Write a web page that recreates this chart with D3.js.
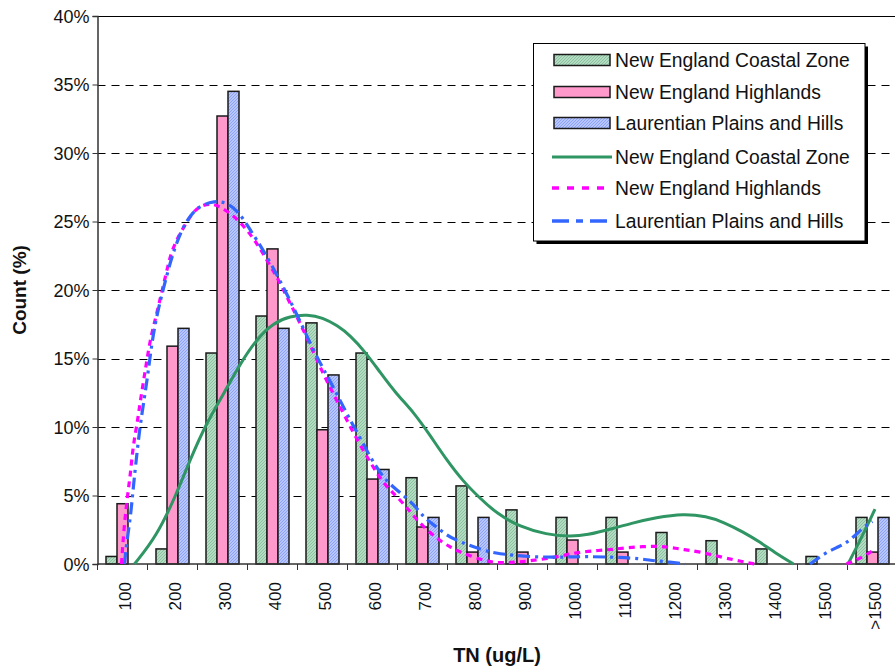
<!DOCTYPE html>
<html><head><meta charset="utf-8">
<script src="https://cdn.jsdelivr.net/npm/d3@7/dist/d3.min.js"></script>
<style>body{margin:0;background:#fff}svg{display:block}text{font-family:Arial,"Liberation Sans",sans-serif}</style>
</head><body>
<svg id="c" width="895" height="670"></svg>
<script>
const categories = ["100","200","300","400","500","600","700","800","900","1000","1100","1200","1300","1400","1500",">1500"];
const seriesNames = ["New England Coastal Zone","New England Highlands","Laurentian Plains and Hills"];
const coastal    = [0.55,1.1,15.4,18.1,17.6,15.4,6.3,5.7,3.95,3.4,3.4,2.3,1.7,1.1,0.55,3.4];
const highlands  = [4.4,15.9,32.7,23.0,9.8,6.2,2.7,0.87,0.87,1.75,0.87,0,0,0,0,0.87];
const laurentian = [0,17.2,34.5,17.2,13.8,6.9,3.4,3.4,0,0,0,0,0,0,0,3.4];
const yTicks = [0,5,10,15,20,25,30,35,40];
// fitted curves: [TN, percent] per segment
const coastalFit = [
  [[124,0],[168,2.0],[208,5.1],[235,7.6],[268,10.3],[302,12.4],[335,14.6],[368,16.4],[402,17.6],[435,18.1],[470,18.2],[500,18.0],[530,17.4],[555,16.7],[585,15.5],[615,14.0],[648,12.4],[682,11.1],[715,9.4],[748,7.6],[782,6.0],[815,4.8],[848,3.7],[895,2.7],[948,2.15],[995,2.0],[1028,2.1],[1082,2.6],[1115,2.95],[1168,3.4],[1222,3.68],[1268,3.48],[1302,3.06],[1342,2.33],[1375,1.6],[1408,0.75],[1442,0]],
  [[1551,0],[1575,1.7],[1605,4.0]]
];
const highlandsFit = [
  [[98,0],[103,2.7],[111,5.3],[116,6.6],[121,8.6],[130,10.4],[134,11.5],[144,13.8],[151,15.4],[158,16.8],[166,17.9],[173,19.0],[188,21.3],[196,22.6],[211,23.9],[228,24.9],[241,25.7],[258,26.2],[278,26.3],[295,26.1],[328,25.3],[362,23.8],[382,22.6],[408,21.0],[422,20.0],[462,17.1],[502,13.8],[528,12.0],[565,9.3],[615,6.2],[635,5.4],[668,4.2],[688,3.2],[728,1.85],[755,1.24],[775,0.87],[802,0.5],[828,0.22],[850,0.08],[875,0.1],[910,0.2],[962,0.46],[1008,0.85],[1055,1.0],[1081,1.07],[1108,1.19],[1140,1.27],[1170,1.3],[1200,1.2],[1222,1.05],[1252,0.92],[1302,0.46],[1338,0.19],[1365,0]],
  [[1548,0],[1582,0.5],[1605,1.1]]
];
const laurentianFit = [
  [[104,0],[108,1.5],[116,3.4],[121,5.4],[126,7.1],[134,9.8],[144,12.2],[151,13.9],[161,16.8],[174,19.0],[188,21.0],[201,22.7],[218,24.4],[238,25.6],[258,26.2],[284,26.5],[304,26.4],[320,26.1],[342,25.2],[355,24.4],[382,22.9],[415,20.7],[448,18.3],[488,15.1],[515,13.4],[548,11.0],[575,9.2],[615,6.5],[648,5.4],[682,4.4],[702,3.4],[725,2.8],[748,2.1],[775,1.6],[822,1.0],[845,0.8],[882,0.63],[928,0.5],[982,0.5],[1028,0.55],[1082,0.5],[1135,0.4],[1155,0.26],[1182,0.19],[1225,0]],
  [[1475,0],[1508,0.87],[1532,1.24],[1555,1.7],[1582,2.7],[1600,3.1]]
];

const svg = d3.select("#c");
const L = 97.5, R = 897.5, T = 16, B = 564;
const y = d3.scaleLinear().domain([0,40]).range([B,T]);
const x0 = d3.scaleBand().domain(categories).range([L,R]).paddingInner(0.34).paddingOuter(0.17);
const x1 = d3.scaleBand().domain(seriesNames).range([0,x0.bandwidth()]);
const xl = d3.scaleLinear().domain([50,1650]).range([L,R]);

const defs = svg.append("defs");
function hatch(id, base, line){
  const p = defs.append("pattern").attr("id",id).attr("patternUnits","userSpaceOnUse").attr("width",3).attr("height",3);
  p.append("rect").attr("width",3).attr("height",3).attr("fill",base);
  p.append("path").attr("d","M0,3L3,0M-1,1L1,-1M2,4L4,2").attr("stroke",line).attr("stroke-width",0.8);
}
hatch("pg","#b4dcc2","#7fbb97");
hatch("pb","#b8c6ff","#8099f5");
const fills = ["url(#pg)","#ff99cc","url(#pb)"];
const lineColors = ["#2e9563","#ff00ff","#3366ff"];
const dashes = [null,"6,5","12,5,3,5"];

// gridlines
svg.append("g").selectAll("line").data(yTicks.filter(d=>d>0&&d<40)).join("line")
  .attr("x1",L).attr("x2",895).attr("y1",d=>Math.round(y(d))+0.5).attr("y2",d=>Math.round(y(d))+0.5)
  .attr("stroke","#000").attr("stroke-width",1).attr("stroke-dasharray","8,6");
svg.append("line").attr("x1",L).attr("x2",895).attr("y1",T+0.5).attr("y2",T+0.5).attr("stroke","#000").attr("stroke-width",1.2);

// bars
const data = [coastal, highlands, laurentian];
const g = svg.append("g");
seriesNames.forEach((s,si)=>{
  g.append("g").selectAll("rect").data(categories.map((c,i)=>({c,v:data[si][i]})).filter(d=>d.v>0)).join("rect")
    .attr("x",d=>x0(d.c)+x1(s)).attr("width",x1.bandwidth())
    .attr("y",d=>y(d.v)).attr("height",d=>B-y(d.v))
    .attr("fill",fills[si]).attr("stroke","#1a1a1a").attr("stroke-width",1.5);
});

// axes
const yAxis = d3.axisLeft(y).tickValues(yTicks).tickSize(5).tickFormat(d=>d+"%");
const ya = svg.append("g").attr("transform",`translate(${L},0)`).call(yAxis);
ya.select(".domain").attr("stroke","#333").attr("stroke-width",1.5);
ya.selectAll(".tick line").attr("stroke","#333");
ya.selectAll("text").attr("font-size",18).attr("fill","#111").attr("x",-8).attr("dy","0.35em");

const xa = svg.append("g");
xa.append("line").attr("x1",L).attr("x2",895).attr("y1",B).attr("y2",B).attr("stroke","#333").attr("stroke-width",1.5);
xa.selectAll("line.t").data(d3.range(categories.length+1)).join("line").attr("class","t")
  .attr("x1",i=>L+i*x0.step()).attr("x2",i=>L+i*x0.step()).attr("y1",B).attr("y2",B+6).attr("stroke","#333");
xa.selectAll("text").data(categories).join("text")
  .attr("transform",d=>`translate(${x0(d)+x0.bandwidth()/2+2},582) rotate(-90)`)
  .attr("text-anchor","end").attr("dy","0.36em").attr("font-size",17).attr("fill","#111").text(d=>d);

// fitted lines
const lineGen = d3.line().x(d=>xl(d[0])).y(d=>y(d[1])).curve(d3.curveBasis);
[coastalFit, highlandsFit, laurentianFit].forEach((segs,si)=>{
  segs.forEach(seg=>{
    svg.append("path").attr("d",lineGen(seg)).attr("fill","none")
      .attr("stroke",lineColors[si]).attr("stroke-width",si===0?3:3.2)
      .attr("stroke-dasharray",dashes[si]);
  });
});

// titles
svg.append("text").attr("transform","translate(26,290) rotate(-90)").attr("text-anchor","middle")
  .attr("font-size",19).attr("font-weight","bold").attr("fill","#111").text("Count (%)");
svg.append("text").attr("x",497).attr("y",662).attr("text-anchor","middle")
  .attr("font-size",20).attr("font-weight","bold").attr("fill","#111").text("TN (ug/L)");

// legend
const lg = svg.append("g");
lg.append("rect").attr("x",536.5).attr("y",46.5).attr("width",331.5).attr("height",197.5).attr("fill","#000");
lg.append("rect").attr("x",533.5).attr("y",43.5).attr("width",331.5).attr("height",197.5).attr("fill","#fff").attr("stroke","#000").attr("stroke-width",1);
const rowsY = [60,92,123,157,188,221];
const labels = seriesNames.concat(seriesNames);
labels.forEach((t,i)=>{
  const cy = rowsY[i];
  if(i<3){
    lg.append("rect").attr("x",554).attr("y",cy-5.5).attr("width",56).attr("height",11)
      .attr("fill",fills[i]).attr("stroke","#1a1a1a").attr("stroke-width",1.5);
  } else {
    const si=i-3;
    lg.append("line").attr("x1",552).attr("x2",612).attr("y1",cy).attr("y2",cy)
      .attr("stroke",lineColors[si]).attr("stroke-width",si===0?3:3.5)
      .attr("stroke-dasharray",si===1?"7,8":si===2?"17,7,7,7":null);
  }
  lg.append("text").attr("x",615).attr("y",cy).attr("dy","0.36em").attr("font-size",19.3).attr("fill","#111").text(t);
});
</script>
</body></html>
